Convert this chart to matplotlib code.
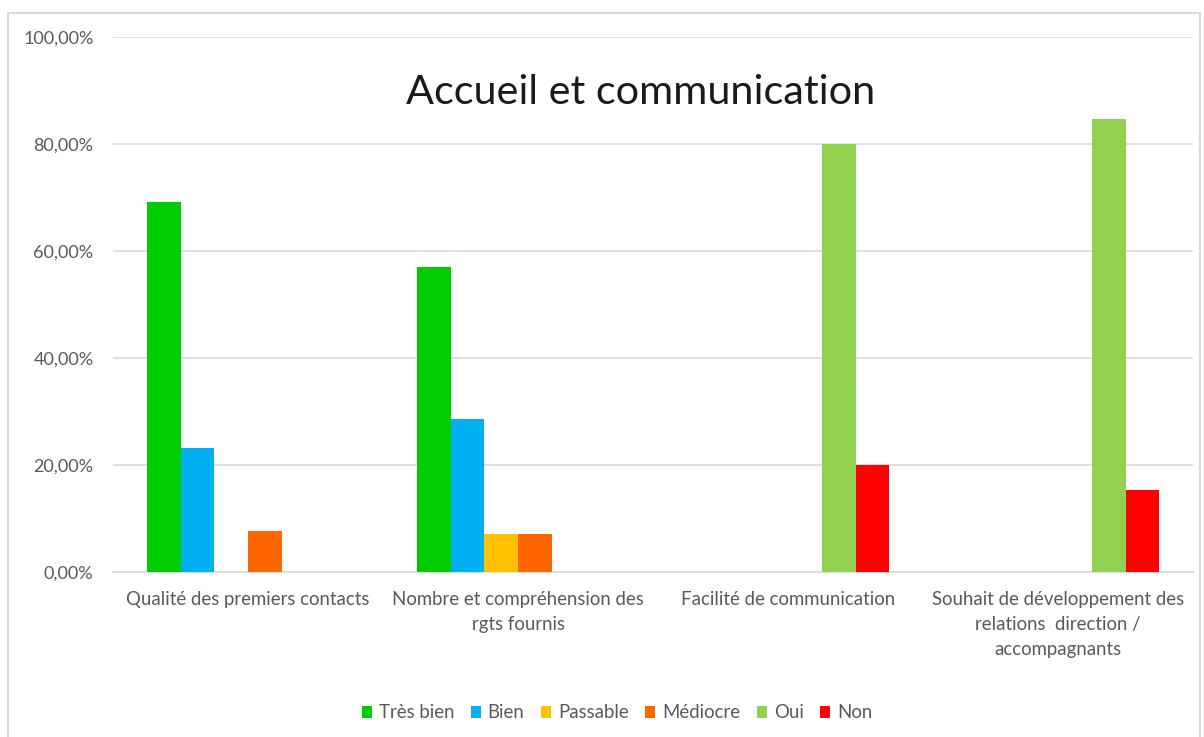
import matplotlib.pyplot as plt
import numpy as np
from matplotlib.patches import Rectangle
from matplotlib.ticker import FuncFormatter

plt.rcParams['font.family'] = ['Lato', 'DejaVu Sans']

categories = ['Qualité des premiers contacts',
              'Nombre et compréhension des\nrgts fournis',
              'Facilité de communication',
              'Souhait de développement des\nrelations  direction /\naccompagnants']
series = ['Très bien', 'Bien', 'Passable', 'Médiocre', 'Oui', 'Non']
colors = ['#00cc00', '#00b0f0', '#ffc000', '#ff6600', '#92d050', '#ff0000']

tres_bien = [0.692, 0.571, 0, 0]
bien = [0.231, 0.286, 0, 0]
passable = [0, 0.071, 0, 0]
mediocre = [0.077, 0.071, 0, 0]
oui = [0, 0, 0.80, 0.846]
non = [0, 0, 0.20, 0.154]
values = [tres_bien, bien, passable, mediocre, oui, non]

fig = plt.figure(figsize=(12.04, 7.37), dpi=100)
# chart frame
fig.patches.append(Rectangle((8/1204, -0.01), 1192/1204, 1 - 13/737 + 0.01,
                             transform=fig.transFigure, fill=False,
                             edgecolor='#d9d9d9', linewidth=1.5))
ax = fig.add_axes([113/1204, 1 - 572/737, 1080/1204, 535/737])

x = np.arange(len(categories))
w = 0.125
for i, (name, vals) in enumerate(zip(series, values)):
    pos = x - 0.375 + w/2 + i*w
    ax.bar(pos, vals, width=w, color=colors[i], label=name, zorder=3)

ax.set_xlim(-0.5, 3.5)
ax.set_ylim(0, 1.0)
ax.set_yticks(np.arange(0, 1.01, 0.2))
ax.yaxis.set_major_formatter(FuncFormatter(lambda v, p: f'{v*100:.2f}%'.replace('.', ',')))
ax.grid(axis='y', color='#d9d9d9', linewidth=1.2, zorder=0)
for s in ['top', 'right', 'left']:
    ax.spines[s].set_visible(False)
ax.spines['bottom'].set_color('#d9d9d9')
ax.spines['bottom'].set_linewidth(1.2)
ax.tick_params(axis='y', length=0, labelsize=13, colors='#595959', pad=14)
ax.tick_params(axis='x', length=0, labelsize=13.4, colors='#595959', pad=14)
ax.set_xticks(x)
ax.set_xticklabels(categories, linespacing=1.55)

fig.text(641/1204, 1 - 93/737, 'Accueil et communication', fontsize=29.8,
         ha='center', va='center', color='#1a1a1a')

leg = fig.legend(loc='center', bbox_to_anchor=(617/1204, 1 - 713/737), ncol=6,
                 frameon=False, fontsize=13.4, handlelength=0.55, handleheight=0.55,
                 handletextpad=0.35, columnspacing=0.9)
for t in leg.get_texts():
    t.set_color('#595959')

fig.savefig('out.png', dpi=100)
